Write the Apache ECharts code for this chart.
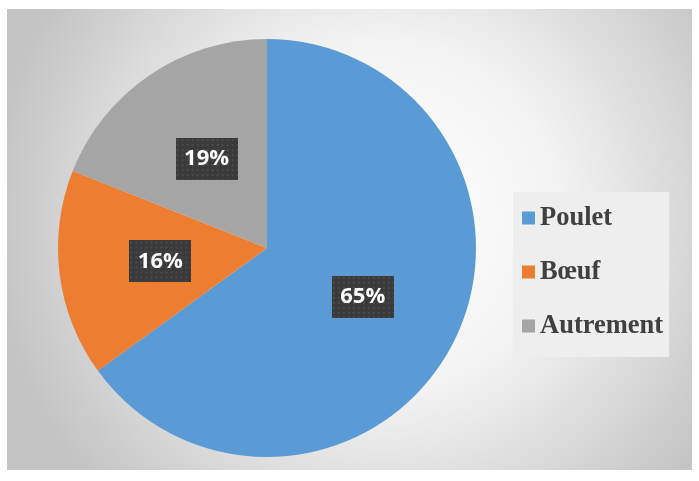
<!DOCTYPE html>
<html>
<head>
<meta charset="utf-8">
<script src="https://cdn.jsdelivr.net/npm/echarts@6/dist/echarts.min.js"></script>
<style>
html,body{margin:0;padding:0;background:#ffffff;}
#c{width:699px;height:481px;}
</style>
</head>
<body>
<div id="c"></div>
<script>
const categories = ['Poulet', 'Bœuf', 'Autrement'];
const values = [65, 16, 19];
const colors = ['#5B9BD5', '#ED7D31', '#A5A5A5'];

function makePattern(w, h) {
  const cv = document.createElement('canvas');
  cv.width = w; cv.height = h;
  const ctx = cv.getContext('2d');
  ctx.fillStyle = '#3a3a3a';
  ctx.fillRect(0, 0, w, h);
  ctx.fillStyle = '#4c4c4c';
  for (let y = 1; y < h; y += 5) {
    for (let x = 1; x < w; x += 5) {
      ctx.fillRect(x, y, 2, 2);
    }
  }
  return cv;
}
const pattern = makePattern(62, 42);

const chart = echarts.init(document.getElementById('c'), null, {renderer: 'canvas'});
chart.setOption({
  animation: false,
  backgroundColor: '#ffffff',
  graphic: [{
    type: 'rect',
    z: -10,
    silent: true,
    shape: {x: 7, y: 9, width: 685, height: 461},
    style: {
      fill: {
        type: 'radial', x: 0.55, y: 0.45, r: 0.85,
        colorStops: [
          {offset: 0, color: '#ffffff'},
          {offset: 0.45, color: '#f3f3f3'},
          {offset: 1, color: '#c4c4c4'}
        ]
      }
    }
  }],
  legend: {
    orient: 'vertical',
    left: 513,
    top: 192,
    backgroundColor: '#eeeeee',
    padding: [11, 6, 16, 9],
    itemWidth: 13,
    itemHeight: 13,
    itemGap: 24,
    icon: 'rect',
    data: categories,
    textStyle: {
      fontFamily: 'Liberation Serif',
      fontWeight: 'bold',
      fontSize: 26.5,
      lineHeight: 30,
      color: '#404040'
    }
  },
  series: [{
    type: 'pie',
    center: [267, 248],
    radius: [0, 209],
    startAngle: 90,
    clockwise: true,
    silent: true,
    itemStyle: {borderWidth: 0},
    label: {
      position: 'inside',
      formatter: '{c}%',
      fontFamily: 'Open Sans',
      fontWeight: 'bold',
      fontSize: 22,
      color: '#ffffff',
      width: 62,
      height: 42,
      lineHeight: 42,
      align: 'center',
      verticalAlign: 'middle',
      backgroundColor: {image: pattern},
      shadowColor: 'rgba(0,0,0,0.45)',
      shadowBlur: 4,
      shadowOffsetX: 2,
      shadowOffsetY: 2
    },
    labelLine: {show: false},
    data: categories.map((n, i) => ({name: n, value: values[i], itemStyle: {color: colors[i]}}))
  }]
});
</script>
</body>
</html>
